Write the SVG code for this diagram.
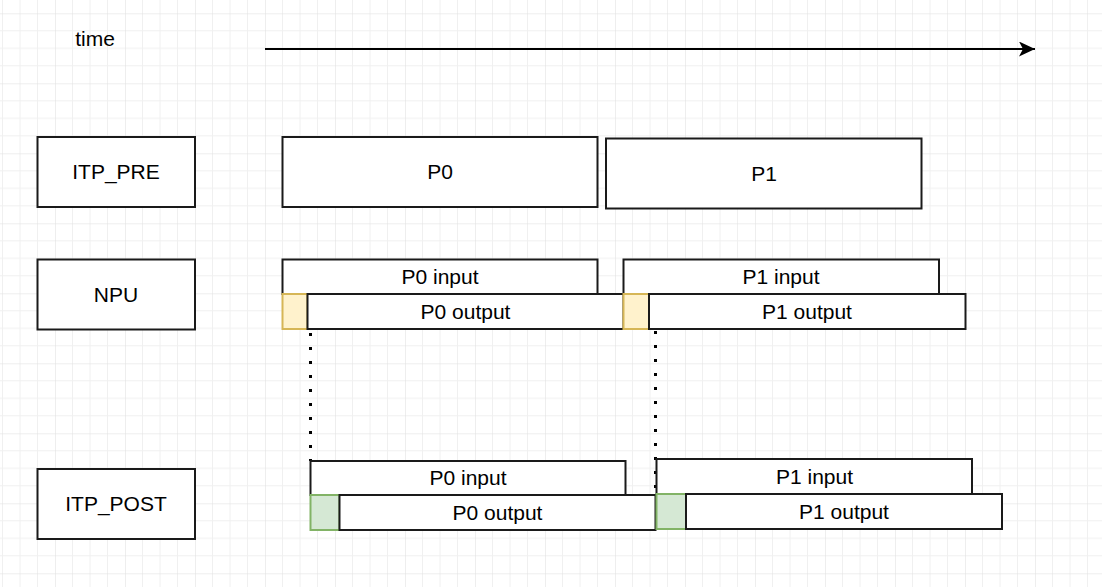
<svg xmlns="http://www.w3.org/2000/svg" width="1102" height="587" viewBox="0 0 1102 587">
  <defs>
    <pattern id="grid" patternUnits="userSpaceOnUse" x="55" y="13.3" width="70" height="70">
      <path d="M17.5 0V70M35 0V70M52.5 0V70M0 17.5H70M0 35H70M0 52.5H70" stroke="#f0f0f0" stroke-width="1" fill="none"/>
      <path d="M0 0V70M0 0H70" stroke="#dedede" stroke-width="1" fill="none"/>
    </pattern>
    <marker id="arrow" markerUnits="userSpaceOnUse" viewBox="0 0 16 15" refX="16" refY="7.5" markerWidth="16" markerHeight="15" orient="auto">
      <path d="M0 0L16 7.5L0 15L4 7.5Z" fill="#000"/>
    </marker>
  </defs>
  <style>
    .box { fill: #ffffff; stroke: #1a1a1a; stroke-width: 2; }
    .yel { fill: #fff2cc; stroke: #d6b656; stroke-width: 2; }
    .grn { fill: #d5e8d4; stroke: #82b366; stroke-width: 2; }
    text { font-family: "Liberation Sans", Arial, sans-serif; font-size: 21px; fill: #000; text-anchor: middle; }
    .dot { stroke: #000; stroke-width: 3; stroke-dasharray: 3 11; fill: none; }
  </style>
  <rect width="1102" height="587" fill="#ffffff"/>
  <rect width="1102" height="587" fill="url(#grid)"/>

  <g id="time-label"><text x="95" y="46">time</text></g>

  <g id="connectors">
    <line x1="265" y1="49" x2="1035" y2="49" stroke="#000" stroke-width="2" marker-end="url(#arrow)"/>
    <line class="dot" x1="310.5" y1="333" x2="310.5" y2="461"/>
    <line class="dot" x1="655.5" y1="331" x2="655.5" y2="494"/>
  </g>

  <g id="itp_pre">
    <rect class="box" x="37.5" y="137" width="157.5" height="70"/>
    <text x="116" y="179">ITP_PRE</text>
  </g>
  <g id="npu">
    <rect class="box" x="37.5" y="259.5" width="157.5" height="70"/>
    <text x="116" y="302">NPU</text>
  </g>
  <g id="itp_post">
    <rect class="box" x="37.5" y="469" width="157.5" height="70"/>
    <text x="116" y="511">ITP_POST</text>
  </g>

  <g id="pre_p0">
    <rect class="box" x="282.5" y="137" width="315" height="70"/>
    <text x="440" y="179">P0</text>
  </g>
  <g id="pre_p1">
    <rect class="box" x="606" y="138.5" width="315.5" height="70"/>
    <text x="764" y="180.5">P1</text>
  </g>

  <g id="npu_p0_input">
    <rect class="box" x="282.5" y="259.5" width="315" height="34.5"/>
    <text x="440" y="283.5">P0 input</text>
  </g>
  <g id="npu_p0_wait">
    <rect class="yel" x="282.5" y="294" width="25" height="35"/>
  </g>
  <g id="npu_p0_output">
    <rect class="box" x="307.5" y="294" width="316" height="35"/>
    <text x="465.5" y="318.5">P0 output</text>
  </g>
  <g id="npu_p1_input">
    <rect class="box" x="623.5" y="259.5" width="315.5" height="34.5"/>
    <text x="781" y="283.5">P1 input</text>
  </g>
  <g id="npu_p1_wait">
    <rect class="yel" x="623.5" y="294" width="25.5" height="35"/>
  </g>
  <g id="npu_p1_output">
    <rect class="box" x="649" y="294" width="316.5" height="35"/>
    <text x="807" y="318.5">P1 output</text>
  </g>

  <g id="post_p0_input">
    <rect class="box" x="310.5" y="461" width="315" height="34"/>
    <text x="468" y="485">P0 input</text>
  </g>
  <g id="post_p0_wait">
    <rect class="grn" x="310.5" y="495" width="29" height="35"/>
  </g>
  <g id="post_p0_output">
    <rect class="box" x="339.5" y="495" width="316" height="35"/>
    <text x="497.5" y="519.5">P0 output</text>
  </g>
  <g id="post_p1_input">
    <rect class="box" x="656.5" y="459" width="315.5" height="35"/>
    <text x="814.5" y="483.5">P1 input</text>
  </g>
  <g id="post_p1_wait">
    <rect class="grn" x="656.5" y="494" width="29.5" height="35"/>
  </g>
  <g id="post_p1_output">
    <rect class="box" x="686" y="494" width="316" height="35"/>
    <text x="844" y="518.5">P1 output</text>
  </g>
</svg>
